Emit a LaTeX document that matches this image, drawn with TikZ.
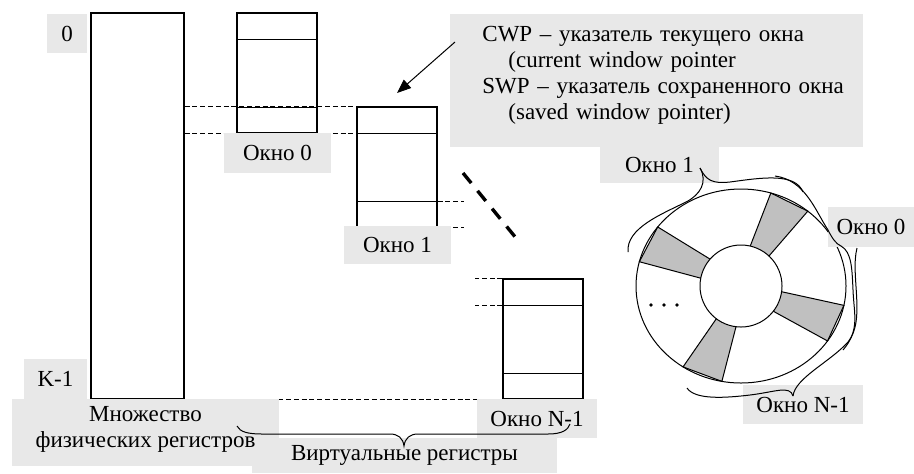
\documentclass[tikz,border=0pt]{standalone}
\usepackage{fontspec}
\setmainfont{Liberation Serif}
\usetikzlibrary{arrows.meta,calc}
\definecolor{lblgray}{HTML}{E8E8E8}
\definecolor{spokegray}{HTML}{C0C0C0}
\tikzset{>=Latex,
  every node/.style={font=\fontsize{11.5}{13}\selectfont},
  lbl/.style={fill=lblgray,inner sep=0pt,align=center},
  regbox/.style={draw,line width=.6pt,minimum width=40pt,minimum height=60pt,inner sep=0pt},
  guide/.style={draw,dash pattern=on 2.5pt off 1.4pt,line width=.4pt},
  curl/.style={line width=.5pt}}

\begin{document}
\begin{tikzpicture}[x=.5pt,y=-.5pt]
\useasboundingbox (0,0) rectangle (914,473);
% physical register file and the windows mapped onto it
\node[regbox,minimum width=46.5pt,minimum height=193pt] (phys) at (137.5,206) {};
\node[regbox] (w0) at (277,73) {};
\node[regbox] (w1) at (397,167) {};
\node[regbox] (wN) at (543,339) {};
\foreach \w in {w0,w1,wN}{
  \draw[line width=.6pt] ([yshift=-13.5pt]\w.north west) -- ([yshift=-13.5pt]\w.north east);
  \draw[line width=.6pt] ([yshift=13pt]\w.south west) -- ([yshift=13pt]\w.south east);}
% overlap of neighbouring windows
\draw[guide] (phys.east |- w1.north) -- (w1.north west);
\draw[guide] (phys.east |- w0.south) -- (w1.west |- w0.south);
\draw[guide] ([yshift=13pt]w1.south east) -- +(26,0);
\draw[guide] (w1.south east) -- +(26,0);
\draw[guide] (wN.north west) -- +(-27,0);
\draw[guide] ([yshift=-13.5pt]wN.north west) -- +(-27,0);
\draw[guide] (phys.south east) -- (wN.south west);
\draw[line width=1.7pt,dash pattern=on 6.5pt off 5pt] (463,173) -- (516,238);
% labels
\node[lbl,minimum width=20pt,minimum height=19.5pt] (top) at (67,33.5) {0};
\node[lbl,minimum width=31.5pt,minimum height=20pt] (bot) at (55.5,379) {K-1};
\node[lbl,minimum width=152.5pt,minimum height=17.5pt] (virt) at (404.5,455.5) {Виртуальные регистры};
\node[lbl,minimum width=133.5pt,minimum height=33.5pt] (physlbl) at (145.5,432.5) {\\[-9pt]Множество\\физических регистров};
\node[lbl,minimum width=53.5pt,minimum height=20pt] (w0lbl) at (277.5,153) {Окно 0};
\node[lbl,minimum width=53.5pt,minimum height=19pt] (w1lbl) at (397.5,245) {Окно 1};
\node[lbl,minimum width=60pt,minimum height=19.5pt] (wNlbl) at (537,418.5) {Окно N-1};
\draw[curl] (237,426) .. controls (240,432) and (248,434) .. (262,434) -- (390,434)
  .. controls (398,434) and (403,438) .. (404,446) .. controls (405,438) and (410,434) .. (418,434)
  -- (548,434) .. controls (562,434) and (568,430) .. (570,424);
% window pointers
\node[lbl,anchor=north west,text width=206.5pt,minimum height=66.5pt,align=left] (callout) at (450,14)
  {\hspace*{16pt}CWP – указатель текущего окна\\
   \hspace*{29pt}(current window pointer\\
   \hspace*{16pt}SWP – указатель сохраненного окна\\
   \hspace*{29pt}(saved window pointer)\\[-5pt]\mbox{}};
\coordinate (cwp) at (397,93);
\draw[-{Triangle[length=7pt,width=5.5pt]},line width=.5pt] ([shift={(2.5pt,-14pt)}]callout.north west) -- (cwp);
% ring of windows
\coordinate (ring) at (741,286);
\foreach \a in {-62,23,112,206}
  \draw[fill=spokegray,line width=.5pt] ($(ring)+({\a-15}:41)$)
    -- ($(ring)+({105*cos(\a-11.5)},{97*sin(\a-11.5)})$)
    -- ($(ring)+({105*cos(\a+11.5)},{97*sin(\a+11.5)})$)
    -- ($(ring)+({\a+15}:41)$) -- cycle;
\draw[line width=.5pt] (ring) ellipse [x radius=105,y radius=97];
\draw[line width=.5pt,fill=white] (ring) circle [radius=41];
\foreach \x in {651,664,677} \fill (\x,305) circle [radius=1.8];
\node[lbl,minimum width=59.5pt,minimum height=18pt] (r1) at (659.5,165) {Окно 1};
\node[lbl,minimum width=43pt,minimum height=20pt] (r0) at (871,227) {Окно 0};
\node[lbl,minimum width=60pt,minimum height=19.5pt] (rN) at (803,404.5) {Окно N-1};
% Окно 1
\draw[curl] (628,252) .. controls (626,228) and (662,214) .. (686,202) .. controls (700,195) and (708,182) .. (700,168);
\draw[curl] (700,168) .. controls (706,180) and (712,184) .. (730,182) .. controls (760,178) and (795,172) .. (803,192);
% Окно 0
\draw[curl] (775,176) .. controls (805,180) and (815,210) .. (828,230) .. controls (832,238) and (836,244) .. (841,246);
\draw[curl] (841,246) .. controls (852,252) and (852,270) .. (853,290) .. controls (854,315) and (860,330) .. (843,350);
% Окно N-1
\draw[curl] (687,388) .. controls (695,400) and (725,398) .. (750,395) .. controls (775,392) and (790,385) .. (793,396);
\draw[curl] (793,396) .. controls (795,378) and (830,362) .. (848,342) .. controls (866,320) and (850,275) .. (857,248);
\end{tikzpicture}
\end{document}
